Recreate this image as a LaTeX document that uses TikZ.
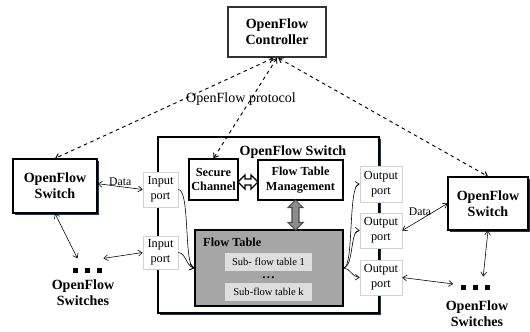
\documentclass[tikz,border=0pt]{standalone}
\usepackage{fontspec}
\setmainfont{Liberation Serif}
\usetikzlibrary{shadows,arrows.meta}

\begin{document}
\begin{tikzpicture}[x=0.03cm,y=-0.03cm,>={Straight Barb[length=3.5pt,width=5pt]},
  box/.style={draw,fill=white,line width=1pt,inner sep=0,align=center,font=\fontsize{12}{13.7}\selectfont\bfseries},
  shadowbox/.style={box,drop shadow={shadow xshift=1.6pt,shadow yshift=-1.6pt,fill=shadowcolor,opacity=1}},
  inbox/.style={draw,fill=white,line width=1.1pt,inner sep=0,align=center,font=\fontsize{10.5}{12.4}\selectfont\bfseries},
  port/.style={draw=gray!35,fill=white,line width=0.5pt,inner sep=0,align=center,font=\fontsize{10.5}{12.8}\selectfont,drop shadow={shadow xshift=1pt,shadow yshift=-1pt,fill=gray!30,opacity=1}},
  subtab/.style={fill=subcolor,inner sep=0,minimum width=2.61cm,minimum height=0.54cm,font=\fontsize{9}{10}\selectfont},
  plain/.style={inner sep=0,align=center},
  ctrlline/.style={<->,dashed,line width=0.8pt},
  dataline/.style={<->,line width=0.5pt}]
\definecolor{shadowcolor}{RGB}{35,50,80}
\definecolor{tablecolor}{RGB}{166,166,166}
\definecolor{subcolor}{RGB}{222,222,222}
\definecolor{arrowcolor}{RGB}{140,140,140}
\useasboundingbox (0,0) rectangle (530,331);
% switch in the middle
\node (bigsw) at (268.5,225) [shadowbox,minimum width=6.63cm,minimum height=5.28cm] {};
\node (bigtitle) at (293,152) [plain,font=\fontsize{12}{13.7}\selectfont\bfseries] {OpenFlow Switch};
\node (sec) at (213.5,179.5) [inbox,minimum width=1.47cm,minimum height=1.23cm] {Secure\\Channel};
\node (ftm) at (300.5,180) [inbox,minimum width=2.55cm,minimum height=1.2cm] {Flow Table\\Management};
\node (ft) at (269,268) [inbox,fill=tablecolor,minimum width=4.44cm,minimum height=2.28cm] {};
\node (ftlabel) at (203,242) [plain,anchor=west,font=\fontsize{10.5}{12}\selectfont\bfseries] {Flow Table};
\node (sub1) at (268.5,262) [subtab] {Sub- flow table 1};
\node (subdots) at (268.5,277.5) [plain,font=\fontsize{11}{11}\selectfont\bfseries] {.\kern1pt.\kern1pt.};
\node (subk) at (268.5,292) [subtab] {Sub-flow table k};
% ports
\node (in1) at (160.5,189.5) [port,minimum width=1.05cm,minimum height=1.05cm] {Input\\port};
\node (in2) at (160.5,252.5) [port,minimum width=1.05cm,minimum height=1.0cm] {Input\\port};
\node (out1) at (381,184) [port,minimum width=1.26cm,minimum height=1.08cm] {Output\\port};
\node (out2) at (381,230.5) [port,minimum width=1.26cm,minimum height=1.05cm] {Output\\port};
\node (out3) at (381,277.5) [port,minimum width=1.26cm,minimum height=1.05cm] {Output\\port};
% controller and other switches
\node (ctrl) at (277,32) [box,line width=1.6pt,draw=black!80,minimum width=2.94cm,minimum height=1.5cm] {OpenFlow\\Controller};
\node (lsw) at (55,186) [shadowbox,minimum width=2.52cm,minimum height=1.62cm] {OpenFlow\\Switch};
\node (rsw) at (488,203.5) [shadowbox,minimum width=2.4cm,minimum height=1.59cm] {OpenFlow\\Switch};
\node (ldots) at (87.5,270.5) [plain] {\rule{0.15cm}{0.15cm}\hspace{0.21cm}\rule{0.15cm}{0.15cm}\hspace{0.21cm}\rule{0.15cm}{0.15cm}};
\node (lswitches) at (83,293) [plain,font=\fontsize{12}{13.7}\selectfont\bfseries] {OpenFlow\\Switches};
\node (rdots) at (475,287.5) [plain] {\rule{0.15cm}{0.15cm}\hspace{0.21cm}\rule{0.15cm}{0.15cm}\hspace{0.21cm}\rule{0.15cm}{0.15cm}};
\node (rswitches) at (477,314) [plain,font=\fontsize{12}{13.7}\selectfont\bfseries] {OpenFlow\\Switches};
% openflow protocol
\draw [ctrlline] ([xshift=-3pt]ctrl.south) -- (lsw.north);
\draw [ctrlline] (ctrl.south) -- (sec.north);
\draw [ctrlline] ([xshift=1pt]ctrl.south) -- (rsw.north);
\node (proto) at (241,99) [plain,font=\fontsize{12}{13.7}\selectfont] {OpenFlow protocol};
% inside the switch
\draw [line width=1pt,fill=white] (238,182) -- (245,175) -- (245,179) -- (251,179) -- (251,175) -- (258,182) -- (251,189) -- (251,185) -- (245,185) -- (245,189) -- cycle;
\draw [line width=0.9pt,draw=black!70,fill=arrowcolor] (295.5,200) -- (303,207.5) -- (299,207.5) -- (299,222.5) -- (303,222.5) -- (295.5,230) -- (288,222.5) -- (292,222.5) -- (292,207.5) -- (288,207.5) -- cycle;
\draw [->,line width=0.5pt] (in1.east) .. controls (190,189) and (184,266) .. (ft.west);
\draw [->,line width=0.5pt] (in2.east) .. controls (186,253) and (186,266) .. (ft.west);
\draw [->,line width=0.5pt] (ft.east) .. controls (354,268) and (348,185) .. (out1.west);
\draw [->,line width=0.5pt] (ft.east) .. controls (354,266) and (350,230) .. (out2.west);
\draw [->,line width=0.5pt] (ft.east) .. controls (350,268) and (352,277) .. (out3.west);
% data links
\draw [dataline] ([yshift=2pt]lsw.east) -- node [above,pos=0.5,font=\fontsize{10}{11}\selectfont,inner sep=1pt] {Data} (in1.west);
\draw [dataline] (lsw.south) -- ([xshift=4pt,yshift=8pt]ldots.north west);
\draw [dataline] ([xshift=1pt,yshift=8pt]ldots.north east) -- (in2.west);
\draw [dataline] (out2.east) -- (rsw.west);
\node (rdata) at (420,212) [plain,font=\fontsize{10}{11}\selectfont] {Data};
\draw [dataline] (out3.east) -- ([xshift=-6pt,yshift=3pt]rdots.west);
\draw [dataline] (rsw.south) -- ([xshift=7pt,yshift=7pt]rdots.north);
\end{tikzpicture}
\end{document}
